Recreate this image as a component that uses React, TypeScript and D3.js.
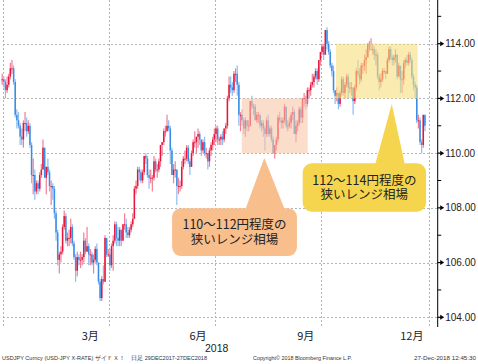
import React from "react";
import * as d3 from "d3";

// USDJPY daily candles: [high, low, close]; open = previous close
const dec2017 = [[112.9, 112.5, 112.7]]; // from the 29th
const jan = [
  [112.8, 112.4, 112.6], [112.7, 112.0, 112.3], [112.8, 112.2, 112.5], [112.9, 112.4, 112.8], [113.3, 112.7, 113.1],
  [113.4, 112.9, 113.1], [113.2, 112.5, 112.6], [112.7, 111.3, 111.4], [111.6, 110.9, 111.2], [111.5, 110.9, 111.0],
  [111.1, 110.3, 110.6], [110.9, 110.3, 110.5], [111.2, 110.2, 111.1], [111.5, 110.8, 111.1], [111.3, 110.6, 110.8],
  [111.2, 110.7, 111.0], [111.1, 110.2, 110.3], [110.4, 108.9, 109.2], [109.8, 108.5, 109.2], [109.4, 108.3, 108.6],
  [109.0, 108.5, 108.9], [109.0, 108.5, 108.7], [109.3, 108.6, 109.2],
];
const feb = [
  [109.6, 109.1, 109.4], [110.5, 109.4, 110.2],
  [110.2, 109.1, 109.1], [109.5, 108.5, 109.5], [109.8, 109.2, 109.3], [109.4, 108.6, 108.8], [109.0, 108.1, 108.8],
  [108.9, 108.3, 108.7], [108.8, 107.6, 107.8], [107.9, 106.8, 107.1], [107.2, 105.9, 106.1], [106.4, 105.6, 106.3],
  [106.6, 106.0, 106.4], [107.4, 106.3, 107.3], [107.9, 107.2, 107.7], [107.8, 106.7, 106.8], [107.1, 106.6, 106.9],
  [107.2, 106.6, 106.9], [107.6, 106.7, 107.3], [107.4, 106.6, 106.7],
];
const mar = [
  [106.8, 106.1, 106.2], [106.3, 105.3, 105.7],
  [106.4, 105.5, 106.2], [106.3, 105.9, 106.1], [106.4, 105.8, 106.1], [106.3, 105.9, 106.2], [107.1, 106.0, 106.8],
  [106.9, 106.3, 106.4], [107.3, 106.4, 106.6], [106.7, 105.9, 106.3], [106.5, 105.9, 106.3], [106.4, 105.9, 106.0],
  [106.3, 105.6, 106.1], [106.6, 106.0, 106.5], [106.7, 105.9, 106.0], [106.0, 105.2, 105.3], [105.4, 104.6, 104.7],
  [105.5, 104.6, 105.4], [105.9, 105.2, 105.3], [107.0, 105.3, 106.9], [106.9, 106.2, 106.3], [106.5, 106.2, 106.3],
];
const apr = [
  [106.5, 105.7, 105.9], [106.7, 105.8, 106.6], [107.0, 105.7, 106.8], [107.5, 106.7, 107.4], [107.5, 106.6, 106.9],
  [107.3, 106.6, 106.8], [107.3, 106.6, 107.2], [107.2, 106.6, 106.8], [107.4, 106.8, 107.4], [107.8, 107.2, 107.4],
  [107.6, 106.9, 107.1], [107.3, 106.9, 107.0], [107.3, 106.9, 107.2], [107.5, 107.1, 107.4], [107.8, 107.3, 107.6],
  [108.8, 107.6, 108.7], [109.0, 108.5, 108.8], [109.5, 108.7, 109.4], [109.5, 109.0, 109.3], [109.4, 108.9, 109.0],
  [109.4, 108.9, 109.3],
];
const may = [
  [109.9, 109.2, 109.9], [110.0, 109.6, 109.8], [109.9, 109.1, 109.2], [109.4, 108.7, 109.1],
  [109.4, 108.9, 109.1], [109.2, 108.6, 109.1], [109.9, 109.0, 109.7], [109.8, 109.3, 109.4], [109.6, 109.1, 109.4],
  [109.8, 109.3, 109.7], [110.3, 109.5, 110.3], [110.4, 109.9, 110.4], [110.9, 110.3, 110.8], [111.0, 110.6, 110.8],
  [111.4, 110.8, 111.0], [111.2, 110.8, 110.9], [111.0, 109.6, 110.1], [110.2, 109.2, 109.2], [109.6, 108.9, 109.4],
  [109.7, 109.1, 109.4], [109.4, 108.1, 108.8], [109.1, 108.5, 108.8], [109.0, 108.6, 108.8],
];
const jun = [
  [109.7, 108.7, 109.5],
  [109.9, 109.4, 109.8], [110.1, 109.6, 109.8], [110.3, 109.7, 110.2], [110.3, 109.6, 109.7], [109.8, 109.2, 109.5],
  [110.1, 109.5, 110.0], [110.5, 109.9, 110.4], [110.8, 110.2, 110.4], [110.6, 110.0, 110.6], [110.9, 110.2, 110.7],
  [110.8, 110.3, 110.5], [110.5, 109.9, 110.1], [110.5, 110.0, 110.4], [110.6, 109.9, 110.0], [110.2, 109.8, 110.0],
  [110.0, 109.4, 109.7], [110.2, 109.5, 110.1], [110.4, 109.9, 110.3], [110.6, 110.1, 110.5], [110.9, 110.3, 110.7],
];
const jul = [
  [111.0, 110.4, 110.9], [111.0, 110.3, 110.5], [110.6, 110.3, 110.5], [110.7, 110.3, 110.6], [110.8, 110.3, 110.5],
  [110.9, 110.4, 110.9], [111.1, 110.7, 111.0], [112.1, 110.9, 112.0], [112.8, 111.9, 112.5], [112.8, 112.2, 112.4],
  [112.6, 112.1, 112.3], [113.0, 112.2, 112.9], [113.1, 112.6, 112.9], [113.2, 112.1, 112.5], [112.6, 111.0, 111.4],
  [111.5, 110.8, 111.4], [111.6, 111.0, 111.2], [111.3, 110.7, 110.9], [111.3, 110.6, 111.2], [111.2, 110.8, 111.0],
  [111.2, 110.8, 111.0], [111.9, 111.0, 111.9],
];
const aug = [
  [112.1, 111.6, 111.7], [111.8, 111.4, 111.7], [111.8, 111.2, 111.2],
  [111.5, 111.1, 111.4], [111.5, 111.1, 111.4], [111.4, 110.9, 111.0], [111.2, 110.8, 111.1], [111.2, 110.6, 110.9],
  [111.0, 110.1, 110.7], [111.3, 110.6, 111.2], [111.4, 110.6, 110.7], [111.0, 110.6, 110.9], [111.0, 110.4, 110.5],
  [110.6, 110.0, 110.0], [110.3, 109.8, 110.3], [110.6, 110.1, 110.5], [111.4, 110.4, 111.3], [111.5, 111.1, 111.2],
  [111.3, 110.9, 111.1], [111.3, 110.9, 111.2], [111.8, 111.1, 111.7], [111.7, 110.9, 111.0], [111.2, 110.8, 111.0],
];
const sep = [
  [111.3, 110.9, 111.1], [111.5, 110.9, 111.4], [111.7, 111.2, 111.5], [111.6, 110.7, 110.7], [111.2, 110.4, 111.0],
  [111.2, 110.8, 111.1], [111.7, 111.0, 111.6], [111.7, 111.1, 111.3], [112.0, 111.1, 112.0], [112.2, 111.7, 112.0],
  [112.1, 111.6, 111.8], [112.4, 111.7, 112.3], [112.4, 112.0, 112.3], [112.6, 112.1, 112.5], [112.9, 112.4, 112.6],
  [112.9, 112.4, 112.8], [113.1, 112.7, 113.0], [113.1, 112.5, 112.7], [113.4, 112.6, 113.4], [113.7, 113.2, 113.7],
];
const oct = [
  [114.0, 113.6, 113.9], [114.0, 113.4, 113.6], [114.5, 113.6, 114.5], [114.6, 113.8, 114.0], [114.1, 113.6, 113.7],
  [113.8, 113.1, 113.2], [113.3, 112.8, 113.0], [113.2, 112.2, 112.3], [112.3, 111.8, 112.1], [112.4, 111.9, 112.2],
  [112.2, 111.6, 111.8], [112.3, 111.7, 112.2], [112.8, 112.1, 112.7], [112.8, 112.1, 112.2], [112.6, 112.0, 112.5],
  [112.9, 112.4, 112.8], [112.9, 112.0, 112.4], [112.6, 112.2, 112.4], [112.6, 112.1, 112.4], [112.4, 111.4, 111.9],
  [112.5, 111.8, 112.4], [113.1, 112.3, 113.0], [113.4, 112.8, 112.9],
];
const nov = [
  [113.1, 112.5, 112.7], [113.3, 112.6, 113.2],
  [113.3, 112.9, 113.2], [113.6, 113.0, 113.4], [113.8, 112.9, 113.5], [114.0, 113.5, 114.0], [114.1, 113.7, 113.8],
  [114.2, 113.8, 113.8], [114.0, 113.6, 113.8], [113.9, 113.4, 113.6], [113.8, 113.2, 113.6], [113.7, 112.7, 112.8],
  [112.9, 112.3, 112.6], [112.9, 112.4, 112.7], [113.1, 112.6, 113.0], [113.1, 112.9, 113.0], [113.0, 112.7, 112.9],
  [113.5, 112.9, 113.4], [113.9, 113.3, 113.8], [113.9, 113.4, 113.5], [113.6, 113.2, 113.4], [113.6, 113.2, 113.5],
];
const dec = [
  [113.8, 113.3, 113.6], [113.6, 112.7, 112.8], [113.3, 112.8, 113.2], [113.1, 112.2, 112.7], [113.0, 112.2, 112.7],
  [113.4, 112.5, 113.3], [113.5, 113.1, 113.4], [113.6, 113.2, 113.3], [113.7, 113.2, 113.6], [113.7, 113.3, 113.4],
  [113.5, 112.7, 112.8], [112.9, 112.3, 112.5], [112.6, 112.0, 112.4], [112.5, 111.1, 111.2], [111.4, 110.9, 111.2],
  [111.3, 110.3, 110.4], [110.5, 110.0, 110.3], [111.4, 110.2, 111.4], [111.4, 110.8, 111.0],
];

const months = [
  { year: 2017, month: 11, from: 29, rows: dec2017 },
  { year: 2018, month: 0, from: 1, rows: jan },
  { year: 2018, month: 1, from: 1, rows: feb },
  { year: 2018, month: 2, from: 1, rows: mar },
  { year: 2018, month: 3, from: 1, rows: apr },
  { year: 2018, month: 4, from: 1, rows: may },
  { year: 2018, month: 5, from: 1, rows: jun },
  { year: 2018, month: 6, from: 1, rows: jul },
  { year: 2018, month: 7, from: 1, rows: aug },
  { year: 2018, month: 8, from: 1, rows: sep },
  { year: 2018, month: 9, from: 1, rows: oct },
  { year: 2018, month: 10, from: 1, rows: nov },
  { year: 2018, month: 11, from: 1, rows: dec },
];

const yTicks = [104, 106, 108, 110, 112, 114];
const yMinor = [105, 107, 109, 111, 113, 115];
const quarterStarts = [new Date(2018, 0, 1), new Date(2018, 3, 1), new Date(2018, 6, 1), new Date(2018, 9, 1), new Date(2019, 0, 1)];
const monthLabels = [
  { date: new Date(2018, 2, 15), text: "3月" },
  { date: new Date(2018, 5, 15), text: "6月" },
  { date: new Date(2018, 8, 15), text: "9月" },
  { date: new Date(2018, 11, 15), text: "12月" },
];
const yearLabel = { date: new Date(2018, 6, 1), text: "2018" };

// highlighted ranges: [start index, end index, low, high]
const ranges = [
  { x0: 146.3, x1: 186.7, lo: 110, hi: 112, fill: "#F6C7A6" },
  { x0: 204, x1: 254.1, lo: 112, hi: 114, fill: "#F6E07C" },
];
// callouts in (weekday index, price)
const callouts = [
  {
    box: [103.6, 180.1, 107.99, 106.24], tip: [160.1, 109.82], base: [148.3, 172.8],
    fill: "#F8BE8C", lines: ["110〜112円程度の", "狭いレンジ相場"],
  },
  {
    box: [183.6, 259.2, 109.63, 107.86], tip: [238.2, 111.8], base: [227.9, 246.3],
    fill: "#F5D54E", lines: ["112〜114円程度の", "狭いレンジ相場"],
  },
];

// weekdays counted from Monday 1 Jan 2018
const base = new Date(2018, 0, 1);
function wdIndex(d: Date) {
  const days = d3.timeDay.count(base, d);
  const w = Math.floor(days / 7);
  const r = days - w * 7;
  return w * 5 + Math.min(r, 5);
}

type Candle = { i: number; o: number; h: number; l: number; c: number };
function buildCandles(): Candle[] {
  const out: Candle[] = [];
  let prev: number | null = null;
  months.forEach(({ year, month, from, rows }) => {
    let k = 0;
    for (let day = from; day <= 31 && k < rows.length; day++) {
      const d = new Date(year, month, day);
      if (d.getMonth() !== month) break;
      const wd = d.getDay();
      if (wd === 0 || wd === 6) continue;
      const [h, l, c] = rows[k++];
      const o = prev == null ? c : prev;
      out.push({ i: wdIndex(d), o, h, l, c });
      prev = c;
    }
  });
  return out;
}

const W = 478;
const H = 364;
const axisX = 437.7;
const plotBottom = 327;

export default function App() {
  const candles = buildCandles();
  const x = d3.scaleLinear().domain([0, 261]).range([3, 429]);
  const y = d3.scaleLinear().domain([104, 114]).range([317.3, 43.7]);
  const cw = 1.5;

  const fontNum = "'Liberation Sans', Arial, sans-serif";
  const fontJp = "'Noto Sans CJK JP', sans-serif";

  return (
    <svg width={W} height={H} style={{ position: "absolute", left: 0, top: 0, background: "#fff" }}>
      <rect width={W} height={H} fill="#fff" />
      {/* grid */}
      <g stroke="#b4b4b4" strokeWidth={1} strokeDasharray="2,2">
        {yTicks.map((t) => (
          <line key={t} x1={x(0)} x2={axisX} y1={Math.round(y(t)) + 0.5} y2={Math.round(y(t)) + 0.5} />
        ))}
        {quarterStarts.map((d, k) => {
          const xx = Math.round(x(wdIndex(d))) + 0.5;
          return <line key={k} x1={xx} x2={xx} y1={0} y2={plotBottom} />;
        })}
      </g>
      {/* candles */}
      <g>
        {candles.map((d) => {
          const cx = x(d.i + 0.5);
          const up = d.c >= d.o;
          const top = Math.min(y(d.o), y(d.c));
          const hgt = Math.max(1, Math.abs(y(d.o) - y(d.c)));
          return (
            <g key={d.i}>
              <line x1={cx} x2={cx} y1={y(d.h)} y2={y(d.l)} stroke={up ? "#f27d95" : "#8ebcf0"} strokeWidth={1.2} />
              <rect x={cx - cw / 2} y={top} width={cw} height={hgt} fill={up ? "#e8163c" : "#3a8ee6"} />
            </g>
          );
        })}
      </g>
      {/* range boxes */}
      {ranges.map((r, k) => (
        <rect key={k} x={x(r.x0)} width={x(r.x1) - x(r.x0)} y={y(r.hi)} height={y(r.lo) - y(r.hi)} fill={r.fill} opacity={0.6} />
      ))}
      {/* callouts */}
      {callouts.map((c, k) => {
        const [bx0, bx1, pTop, pBot] = c.box;
        const left = x(bx0), right = x(bx1), top = y(pTop), bottom = y(pBot);
        const cx = (left + right) / 2;
        const cy = (top + bottom) / 2;
        const tri = `M${x(c.base[0])},${top + 2}L${x(c.tip[0])},${y(c.tip[1])}L${x(c.base[1])},${top + 2}Z`;
        return (
          <g key={k}>
            <path d={tri} fill={c.fill} />
            <rect x={left} y={top} width={right - left} height={bottom - top} rx={9} ry={9} fill={c.fill} />
            <text textAnchor="middle" fontFamily={fontJp} fontSize={12.5} fill="#222">
              {c.lines.map((s, j) => (
                <tspan key={j} x={cx} y={cy + (j - 0.5) * 14.5} dy="0.36em">
                  {s}
                </tspan>
              ))}
            </text>
          </g>
        );
      })}
      {/* right axis */}
      <line x1={axisX} x2={axisX} y1={0} y2={plotBottom} stroke="#000" strokeWidth={1} />
      {yMinor.map((t) => (
        <line key={t} x1={axisX} x2={axisX + 3.5} y1={y(t)} y2={y(t)} stroke="#000" strokeWidth={1} />
      ))}
      {yTicks.map((t) => (
        <g key={t}>
          <line x1={axisX} x2={axisX + 3} y1={y(t)} y2={y(t)} stroke="#000" strokeWidth={1.2} />
          <path d={`M${axisX + 2.5},${y(t) - 2.5}L${axisX + 6.5},${y(t)}L${axisX + 2.5},${y(t) + 2.5}Z`} fill="#000" />
          <text x={axisX + 7.5} y={y(t)} dy="0.36em" fontFamily={fontNum} fontSize={10} fill="#222">
            {d3.format(".2f")(t)}
          </text>
        </g>
      ))}
      {/* x labels */}
      {monthLabels.map((m) => (
        <text key={m.text} x={x(wdIndex(m.date) + 0.5)} y={339.5} textAnchor="middle" fontFamily={fontJp} fontSize={11} fill="#222">
          {m.text}
        </text>
      ))}
      <text x={x(wdIndex(yearLabel.date)) + 1.5} y={351.5} textAnchor="middle" fontFamily={fontNum} fontSize={10.5} fill="#222">
        {yearLabel.text}
      </text>
      {/* footer */}
      <g fontFamily={fontNum} fontSize={5.5} fill="#333">
        <text x={2} y={360} textLength={205} lengthAdjust="spacingAndGlyphs">
          USDJPY Curncy (USD-JPY X-RATE) ザイＦＸ！　日足 29DEC2017-27DEC2018
        </text>
        <text x={253} y={360} textLength={99} lengthAdjust="spacingAndGlyphs">
          Copyright© 2018 Bloomberg Finance L.P.
        </text>
        <text x={414} y={360} textLength={62} lengthAdjust="spacingAndGlyphs">
          27-Dec-2018 12:45:30
        </text>
      </g>
    </svg>
  );
}
